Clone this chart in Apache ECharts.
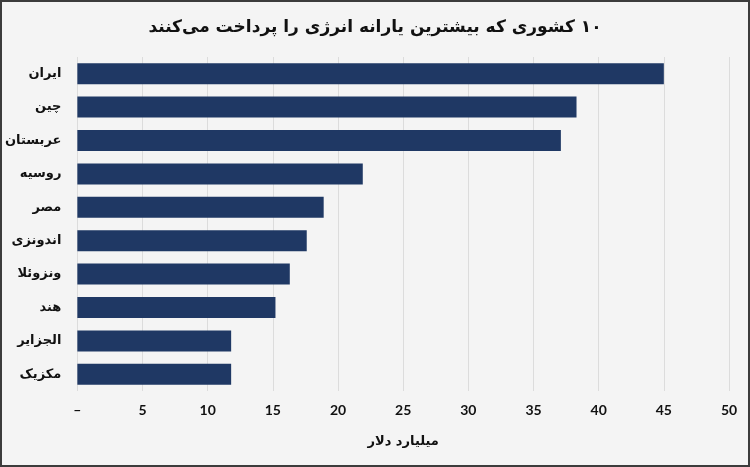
<!DOCTYPE html>
<html>
<head>
<meta charset="utf-8">
<script src="https://cdn.jsdelivr.net/npm/echarts@6/dist/echarts.min.js"></script>
<style>
html,body{margin:0;padding:0;background:#f4f4f4;}
#c{width:746px;height:463px;border:2px solid #3c3c3c;}
</style>
</head>
<body>
<div id="c"></div>
<script>
const titleText = '۱۰ کشوری که بیشترین یارانه انرژی را پرداخت می‌کنند';
const categories = ['ایران','چین','عربستان','روسیه','مصر','اندونزی','ونزوئلا','هند','الجزایر','مکزیک'];
const values = [45.0, 38.3, 37.1, 21.9, 18.9, 17.6, 16.3, 15.2, 11.8, 11.8];
const xTicks = ['–','5','10','15','20','25','30','35','40','45','50'];
const xName = 'میلیارد دلار';

const rtl = s => '\u202B' + s + '\u202C';

const chart = echarts.init(document.getElementById('c'), null, {renderer:'canvas'});
chart.setOption({
  backgroundColor:'#f4f4f4',
  animation:false,
  title:{
    text:rtl(titleText), left:'center', top:12,
    textStyle:{fontFamily:'DejaVu Sans', fontWeight:'bold', fontSize:17, color:'#111'}
  },
  grid:{left:68, right:19, top:55, bottom:74, containLabel:false},
  xAxis:{
    type:'value', min:0, max:50, interval:5,
    axisLine:{show:false}, axisTick:{show:false},
    splitLine:{show:true, lineStyle:{color:'#dcdcdc', width:1}},
    axisLabel:{
      margin:12, color:'#111', fontFamily:'Lato', fontWeight:'bold', fontSize:14,
      formatter:function(v){ return xTicks[Math.round(v/5)]; }
    },
    name:rtl(xName), nameLocation:'middle', nameGap:44,
    nameTextStyle:{fontFamily:'DejaVu Sans', fontWeight:'bold', fontSize:13, color:'#111'}
  },
  yAxis:{
    type:'category', data:categories, inverse:true,
    axisLine:{show:false}, axisTick:{show:false},
    axisLabel:{margin:16, color:'#111', fontFamily:'DejaVu Sans', fontWeight:'bold', fontSize:13,
      formatter:function(v){ return rtl(v); }}
  },
  series:[{
    type:'bar', data:values, barCategoryGap:'37%',
    itemStyle:{color:'#1f3864'}
  }]
});
</script>
</body>
</html>
